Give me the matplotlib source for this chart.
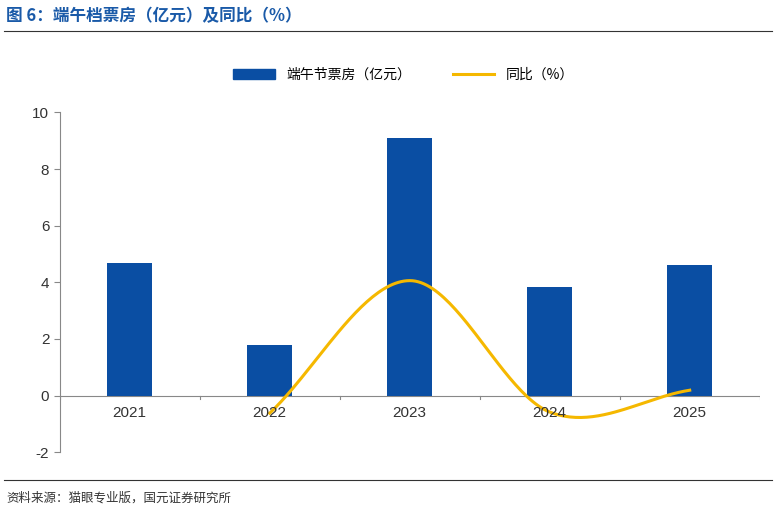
import matplotlib
matplotlib.use("Agg")
import matplotlib.pyplot as plt
import numpy as np
from matplotlib.lines import Line2D

plt.rcParams['font.family'] = ['Noto Sans CJK SC']

years = ["2021", "2022", "2023", "2024", "2025"]
box_office = [4.7, 1.8, 9.1, 3.85, 4.6]
yoy_years = ["2022", "2023", "2024", "2025"]
yoy = [-0.62, 4.06, -0.58, 0.19]

fig = plt.figure(figsize=(7.76, 5.11), dpi=100)
ax = fig.add_axes([0.077, 0.115, 0.902, 0.665])
x = np.arange(len(years))
ax.bar(x, box_office, width=0.32, color='#0a4ea3', zorder=2)

xi = np.array([years.index(y) for y in yoy_years], dtype=float)
yi = np.array(yoy)
px = np.concatenate([[2*xi[0]-xi[1]], xi, [2*xi[-1]-xi[-2]]])
py = np.concatenate([[2*yi[0]-yi[1]], yi, [2*yi[-1]-yi[-2]]])
cx, cy = [], []
for i in range(1, len(px)-2):
    t = np.linspace(0, 1, 50)
    for arr, out in ((px, cx), (py, cy)):
        p0, p1, p2, p3 = arr[i-1], arr[i], arr[i+1], arr[i+2]
        out.extend(0.5*((2*p1) + (-p0+p2)*t + (2*p0-5*p1+4*p2-p3)*t**2 + (-p0+3*p1-3*p2+p3)*t**3))
ax.plot(cx, cy, color='#f5b800', lw=2.2, zorder=3)

ax.set_ylim(-2, 10)
ax.set_xlim(-0.5, 4.5)
ax.set_yticks(range(-2, 11, 2))
ax.set_yticklabels([str(v) for v in range(-2, 11, 2)], fontfamily='Liberation Sans')
ax.set_xticks([])
for s in ['top', 'right', 'bottom']:
    ax.spines[s].set_visible(False)
ax.spines['left'].set_color('#888888')
ax.axhline(0, color='#888888', lw=0.8, zorder=1)
for i in range(len(years)+1):
    ax.plot([i-0.5, i-0.5], [0, -0.12], color='#888888', lw=0.8)
for i, y in enumerate(years):
    ax.text(i, -0.35, y, ha='center', va='top', fontsize=11, color='#333333', fontfamily='Liberation Sans')
ax.tick_params(axis='y', labelsize=11, colors='#333333', length=4, color='#888888')

handles = [plt.Rectangle((0, 0), 1, 1, color='#0a4ea3'),
           Line2D([0], [0], color='#f5b800', lw=2.2)]
fig.legend(handles, ['端午节票房（亿元）', '同比（%）'], loc='center', bbox_to_anchor=(0.52, 0.853),
           ncol=2, frameon=False, fontsize=10, handlelength=3, columnspacing=3)

fig.text(0.008, 0.968, '图 6：端午档票房（亿元）及同比（%）', fontsize=12, fontweight='bold',
         color='#1a5aa8', va='center')
fig.add_artist(Line2D([0.005, 0.995], [0.94, 0.94], color='#333333', lw=0.8))
fig.add_artist(Line2D([0.005, 0.995], [0.06, 0.06], color='#333333', lw=0.8))
fig.text(0.008, 0.025, '资料来源：猫眼专业版，国元证券研究所', fontsize=9, color='#333333', va='center')

fig.savefig('out.png', dpi=100)
